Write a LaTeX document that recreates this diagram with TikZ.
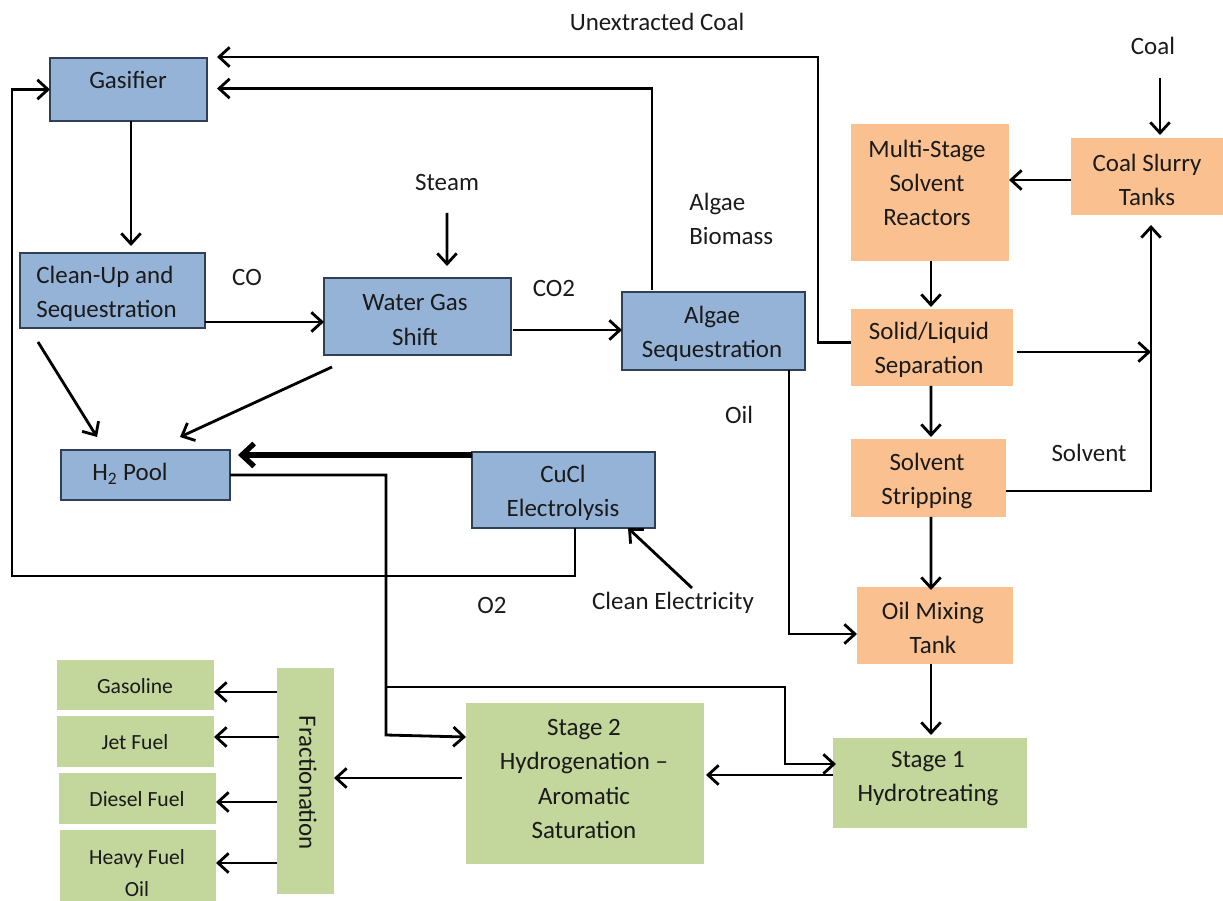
\documentclass[tikz,border=0pt]{standalone}
\usepackage{fontspec}
\setmainfont{Carlito}
\usetikzlibrary{arrows.meta,fit,calc}
\definecolor{bluef}{HTML}{95B3D7}
\definecolor{bluel}{HTML}{2E3F56}
\definecolor{orgf}{HTML}{FAC090}
\definecolor{grnf}{HTML}{C3D69B}
\definecolor{ink}{HTML}{1A1A1A}
\begin{document}
\begin{tikzpicture}[x=0.02cm,y=-0.02cm,
  box/.style={inner sep=0pt, outer sep=0pt},
  blu/.style={box, fill=bluef, draw=bluel, line width=0.9pt},
  org/.style={box, fill=orgf},
  grn/.style={box, fill=grnf},
  txt/.style={font=\fontsize{14.2}{19.4}\selectfont, align=center, inner sep=0pt, text=ink},
  stxt/.style={font=\fontsize{12.3}{17.5}\selectfont, align=center, inner sep=0pt, text=ink},
  arr/.style={line width=1.6pt, -{Straight Barb[length=6pt,width=11pt,line width=1.6pt]}},
  tarr/.style={line width=3pt, -{Straight Barb[length=7pt,width=13pt,line width=3pt]}},
]
\useasboundingbox (0,0) rectangle (1223,901);

% boxes
\node[blu, fit={(50,58) (207,121)}] (gas) {};
\node[blu, fit={(20,253) (205,328)}] (cup) {};
\node[blu, fit={(324,278) (511,355)}] (wgs) {};
\node[blu, fit={(622,292) (805,370)}] (alg) {};
\node[blu, fit={(61,450) (230,500)}] (h2) {};
\node[blu, fit={(472,452) (655,528)}] (cucl) {};
\node[org, fit={(851,124) (1009,261)}] (msr) {};
\node[org, fit={(1071,138) (1223,215)}] (cst) {};
\node[org, fit={(851,309) (1013,386)}] (sls) {};
\node[org, fit={(851,439) (1006,517)}] (sst) {};
\node[org, fit={(857,587) (1013,664)}] (omt) {};
\node[grn, fit={(833,738) (1027,828)}] (st1) {};
\node[grn, fit={(466,703) (704,864)}] (st2) {};
\node[grn, fit={(277,668) (334,894)}] (frac) {};
\node[grn, fit={(57,660) (214,710)}] (gso) {};
\node[grn, fit={(57,716) (214,767)}] (jet) {};
\node[grn, fit={(59,773) (216,824)}] (dsl) {};
\node[grn, fit={(60,830) (216,901)}] (hfo) {};

% box texts
\node[txt] (tgas) at (128,80) {Gasifier};
\node[txt, align=left, anchor=west] (tcup) at (36,294) {Clean-Up and\\Sequestration};
\node[txt] (twgs) at (415,320) {Water Gas\\Shift};
\node[txt] (talg) at (712,334) {Algae\\Sequestration};
\node[txt] (th2) at (130,474) {H\textsubscript{2} Pool};
\node[txt] (tcucl) at (563,493) {CuCl\\Electrolysis};
\node[txt] (tmsr) at (927,183) {Multi-Stage\\Solvent\\Reactors};
\node[txt] (tcst) at (1147,180) {Coal Slurry\\Tanks};
\node[txt] (tsls) at (929,350) {Solid/Liquid\\Separation};
\node[txt] (tsst) at (927,481) {Solvent\\Stripping};
\node[txt] (tomt) at (933,628) {Oil Mixing\\Tank};
\node[txt] (tst1) at (928,779) {Stage 1\\Hydrotreating};
\node[txt, font=\fontsize{14.2}{19.7}\selectfont] (tst2) at (584,779) {Stage 2\\Hydrogenation --\\Aromatic\\Saturation};
\node[txt, rotate=-90] (tfrac) at (308,783) {Fractionation};
\node[stxt] (tgso) at (135,686) {Gasoline};
\node[stxt] (tjet) at (135,742) {Jet Fuel};
\node[stxt] (tdsl) at (137,799) {Diesel Fuel};
\node[stxt, font=\fontsize{12.3}{18}\selectfont] (thfo) at (137,873) {Heavy Fuel\\Oil};

% free labels
\node[txt] (lunx) at (657,22) {Unextracted Coal};
\node[txt] (lcoal) at (1153,46) {Coal};
\node[txt] (lsteam) at (447,183) {Steam};
\node[txt, align=left, anchor=west] (lbio) at (689,219) {Algae\\Biomass};
\node[txt] (lco) at (247,277) {CO};
\node[txt] (lco2) at (554,288) {CO2};
\node[txt] (loil) at (739,415) {Oil};
\node[txt] (lsolv) at (1089,453) {Solvent};
\node[txt] (lo2) at (492,605) {O2};
\node[txt] (lcel) at (673,603) {Clean Electricity};

% connectors
\coordinate (u1) at ($(sls.west)+(0,-5)$);
\draw[arr] (u1) -- ++(-33,0) |- ($(gas.north east)+(10,-1)$);
\draw[arr] ($(alg.north west)+(30,-2)$) |- ($(gas.east)+(10,-1)$);
\draw[arr] ($(cucl.south west)+(103,0)$) -- ++(0,48) -| ($(gas.west)+(-38,0)$) -- (gas.west);
\draw[arr] ($(gas.south)+(2.5,0)$) -- ($(gas.south)+(2.5,125)$);
\draw[arr] ($(lsteam)+(0,30)$) -- ($(wgs.north)+(29.5,-12)$);
\coordinate (c1) at ($(cup.east)+(0,31.5)$);
\draw[arr] (c1) -- (c1 -| wgs.west);
\coordinate (c2) at ($(wgs.east)+(2,13.5)$);
\draw[arr] (c2) -- (c2 -| alg.west);
\draw[arr] ($(cup.south west)+(18,14)$) -- ($(h2.north west)+(36,-13)$);
\draw[arr] ($(wgs.south west)+(8,12)$) -- ($(h2.north west)+(119,-13)$);
\draw[tarr] ($(cucl.north west)+(0,3)$) -- ($(h2.north east)+(8,5)$);
\coordinate (j1) at ($(h2.east)+(156,0)$);
\draw[arr] (h2.east) -- (j1) -- ++(0,260) -- ($(st2.north west)+(0,34)$);
\coordinate (j2) at ($(j1)+(0,212)$);
\draw[arr] (j2) -| ($(st1.west)+(-48,-19)$) -- ($(st1.west)+(3,-19)$);
\coordinate (o1) at ($(alg.south east)+(-16,0)$);
\draw[arr] (o1) |- ($(omt.west)+(0,8.5)$);
\draw[arr] ($(lcoal)+(7,32)$) -- ($(cst.north)+(13,-3)$);
\coordinate (c3) at ($(cst.west)+(0,3.5)$);
\draw[arr] (c3) -- (c3 -| msr.east);
\draw[arr] ($(msr.south)+(1,0)$) -- ($(sls.north)+(-1,-2)$);
\draw[arr] ($(sls.south)+(-1,0)$) -- ($(sst.north)+(2.5,-2)$);
\draw[arr] ($(sst.south)+(2.5,0)$) -- ($(omt.north)+(-4,3)$);
\draw[arr] ($(omt.south)+(-4,0)$) -- ($(st1.north)+(1,-3)$);
\coordinate (rc) at ($(cst.south)+(4,0)$);
\coordinate (c4) at ($(sls.east)+(4,4.5)$);
\draw[arr] (c4) -- (c4 -| rc);
\coordinate (sv) at ($(sst.east)+(0,13)$);
\draw[arr] (sv) -| ($(rc)+(0,10)$);
\coordinate (c5) at ($(st1.west)+(0,-8)$);
\draw[arr] (c5) -- ($(c5 -| st2.east)+(2,0)$);
\coordinate (c6) at ($(st2.west)+(-4,-5.5)$);
\draw[arr] (c6) -- (c6 -| frac.east);
\coordinate (f1) at ($(frac.north west)+(0,24)$);
\coordinate (f2) at ($(frac.north west)+(2,69)$);
\coordinate (f3) at ($(frac.north west)+(0,134)$);
\coordinate (f4) at ($(frac.north west)+(0,195)$);
\draw[arr] (f1) -- (f1 -| gso.east);
\draw[arr] (f2) -- (f2 -| jet.east);
\draw[arr] (f3) -- (f3 -| dsl.east);
\draw[arr] (f4) -- (f4 -| hfo.east);
\draw[arr] ($(lcel.north)+(19,-4)$) -- ($(cucl.south west)+(156,0)$);
\end{tikzpicture}
\end{document}
